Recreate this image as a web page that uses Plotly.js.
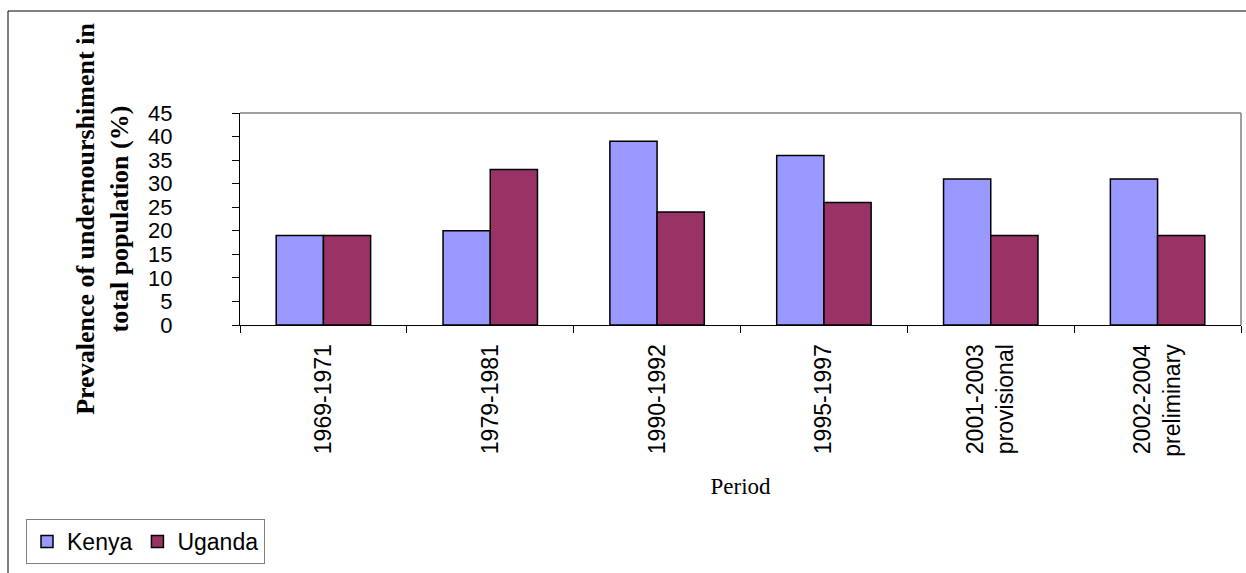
<!DOCTYPE html>
<html>
<head>
<meta charset="utf-8">
<script src="https://cdn.plot.ly/plotly-3.0.1.min.js"></script>
<style>html,body{margin:0;padding:0;background:#fff;}#chart{width:1246px;height:573px;}</style>
</head>
<body>
<div id="chart"></div>
<script>
var periods = ["1969-1971", "1979-1981", "1990-1992", "1995-1997", "2001-2003<br>provisional", "2002-2004<br>preliminary"];
var kenya = [19, 20, 39, 36, 31, 31];
var uganda = [19, 33, 24, 26, 19, 19];
var yTitle = "Prevalence of undernourshiment in<br>total population (%)";
var xTitle = "Period";

var W = 1246, H = 573;
var mL = 240, mR = 5, mT = 113, mB = 248;
var pw = W - mL - mR, ph = H - mT - mB;
function px(x){ return (x - mL) / pw; }
function py(y){ return (H - mB - y) / ph; }

var traces = [
  {type: 'bar', name: 'Kenya', x: periods, y: kenya,
   marker: {color: '#9999FF', line: {color: '#000000', width: 1.5}}},
  {type: 'bar', name: 'Uganda', x: periods, y: uganda,
   marker: {color: '#993366', line: {color: '#000000', width: 1.5}}}
];

var layout = {
  width: W, height: H,
  margin: {l: mL, r: mR, t: mT, b: mB, pad: 0},
  paper_bgcolor: '#ffffff', plot_bgcolor: '#ffffff',
  barmode: 'group', bargap: 0.434, bargroupgap: 0,
  showlegend: true,
  legend: {orientation: 'h', x: px(26), y: py(519), xanchor: 'left', yanchor: 'top',
    bordercolor: '#808080', borderwidth: 1, bgcolor: '#ffffff',
    font: {family: 'Liberation Sans, Arial, sans-serif', size: 23, color: '#000'},
    itemwidth: 30, tracegroupgap: 0},
  xaxis: {
    type: 'category', tickson: 'boundaries', ticks: 'outside', ticklen: 7, tickcolor: '#000',
    showline: true, linecolor: '#000', linewidth: 1, showgrid: false, zeroline: false,
    tickangle: -90, automargin: false, ticklabelstandoff: 9,
    tickfont: {family: 'Liberation Sans, Arial, sans-serif', size: 23, color: '#000'},
    title: {text: xTitle, standoff: 22, font: {family: 'Liberation Serif, Times New Roman, serif', size: 23, color: '#000'}}
  },
  yaxis: {
    range: [0, 45], dtick: 5, tick0: 0, ticks: 'outside', ticklen: 7, tickcolor: '#000',
    showline: true, linecolor: '#000', linewidth: 1, showgrid: false, zeroline: false,
    automargin: false, ticklabelstandoff: 55,
    tickfont: {family: 'Liberation Sans, Arial, sans-serif', size: 22, color: '#000'},
    title: {text: yTitle, standoff: 12, font: {family: 'Liberation Serif, Times New Roman, serif', size: 26, color: '#000', weight: 'bold'}}
  },
  shapes: [
    {type: 'line', xref: 'paper', yref: 'paper', x0: 0, x1: 1, y0: 1, y1: 1, line: {color: '#808080', width: 1.5}},
    {type: 'line', xref: 'paper', yref: 'paper', x0: 1, x1: 1, y0: 0, y1: 1, line: {color: '#808080', width: 1.5}},
    {type: 'rect', xref: 'paper', yref: 'paper', x0: px(8), x1: px(1260), y0: py(11), y1: py(590), line: {color: '#000', width: 1}, fillcolor: 'rgba(0,0,0,0)'}
  ]
};

Plotly.newPlot('chart', traces, layout, {displayModeBar: false, staticPlot: true});
</script>
</body>
</html>
